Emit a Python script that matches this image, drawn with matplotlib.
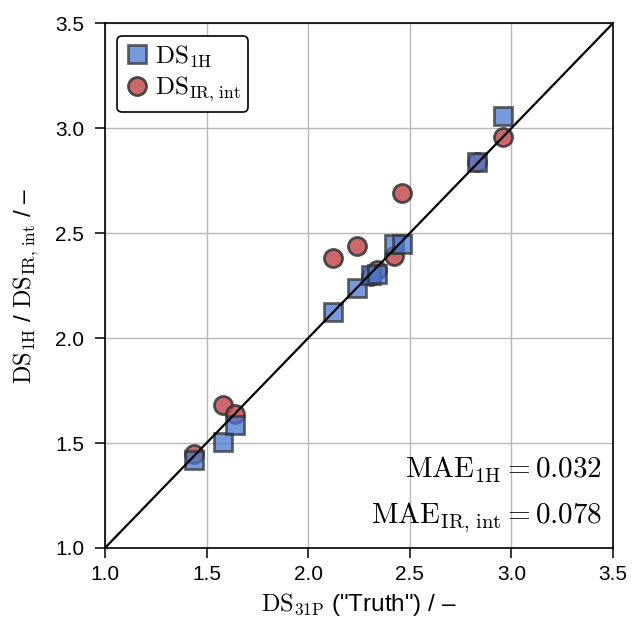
import matplotlib
matplotlib.use("Agg")
import matplotlib.pyplot as plt

plt.rcParams['font.family'] = ['Liberation Sans', 'DejaVu Sans']
plt.rcParams['mathtext.fontset'] = 'cm'

truth = [1.44, 1.58, 1.64, 2.12, 2.24, 2.31, 2.34, 2.42, 2.46, 2.83, 2.96]
ds_1h = [1.42, 1.505, 1.585, 2.125, 2.24, 2.30, 2.305, 2.45, 2.45, 2.84, 3.06]
ds_ir = [1.45, 1.68, 1.64, 2.38, 2.44, 2.295, 2.325, 2.39, 2.69, 2.84, 2.96]
mae_1h = 0.032
mae_ir = 0.078
ticks = [1.0, 1.5, 2.0, 2.5, 3.0, 3.5]

fig = plt.figure(figsize=(6.32, 6.27), dpi=100)
ax = fig.add_axes([0.166, 0.126, 0.804, 0.837])

ax.grid(True, color='#b8b8b8', lw=1.0, zorder=0)
ax.set_axisbelow(True)

ircol = '#C44E52'
hcol = '#4878d0'

h2 = ax.plot(truth, ds_ir, 'o', ms=13, mfc=ircol, mec='#333333', mew=2.0,
             alpha=0.85, label=r'$\mathrm{DS_{IR,\,int}}$', zorder=2)[0]
h1 = ax.plot(truth, ds_1h, 's', ms=13, mfc=hcol, mec='#333333', mew=2.0,
             alpha=0.75, label=r'$\mathrm{DS_{1H}}$', zorder=3)[0]
ax.plot([1.0, 3.5], [1.0, 3.5], color='black', lw=1.6, zorder=4)

ax.set_xlim(1.0, 3.5)
ax.set_ylim(1.0, 3.5)
ax.set_xticks(ticks)
ax.set_yticks(ticks)
ax.tick_params(direction='out', length=7.5, width=1.1, labelsize=15, color='black')
ax.tick_params(axis='x', pad=5)
ax.tick_params(axis='y', pad=7.5)
for s in ax.spines.values():
    s.set_color('black')
    s.set_linewidth(1.2)

ax.set_xlabel(r'$\mathrm{DS_{31P}}$ ("Truth") / –', fontsize=17.5, labelpad=5)
ax.set_ylabel(r'$\mathrm{DS_{1H}}$ / $\mathrm{DS_{IR,\,int}}$ / –', fontsize=17.5, labelpad=10)

leg = ax.legend(handles=[h1, h2], loc='upper left', fontsize=18, frameon=True,
                edgecolor='black', fancybox=True, framealpha=1,
                handletextpad=0.2, borderpad=0.3, handlelength=1.0,
                labelspacing=0.2, borderaxespad=0.5)
leg.get_frame().set_linewidth(1.2)

ax.text(0.978, 0.149, r'$\mathrm{MAE_{1H}} = %.3f$' % mae_1h, transform=ax.transAxes,
        ha='right', va='center', fontsize=21)
ax.text(0.978, 0.059, r'$\mathrm{MAE_{IR,\,int}} = %.3f$' % mae_ir, transform=ax.transAxes,
        ha='right', va='center', fontsize=21)

fig.savefig('out.png', dpi=100)
